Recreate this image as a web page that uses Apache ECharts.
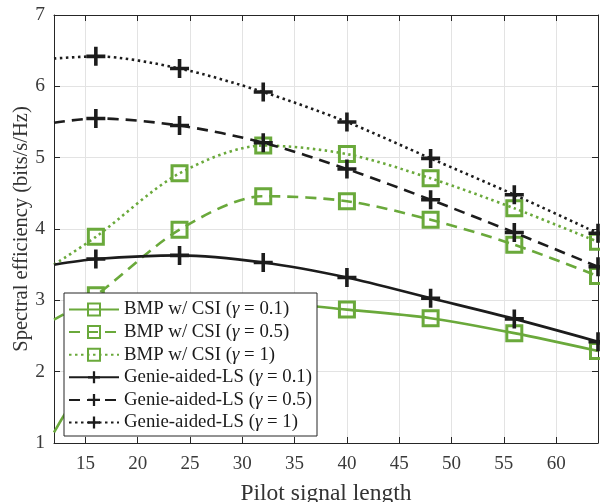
<!DOCTYPE html>
<html>
<head>
<meta charset="utf-8">
<script src="https://cdn.jsdelivr.net/npm/echarts@6/dist/echarts.min.js"></script>
<style>html,body{margin:0;padding:0;background:#fff}#c{width:600px;height:502px}</style>
</head>
<body>
<div id="c"></div>
<script>
const xs = [12, 16, 24, 32, 40, 48, 56, 64];
const bmp01 = [1.15, 2.0, 2.75, 2.97, 2.87, 2.75, 2.54, 2.29];
const bmp05 = [2.73, 3.07, 3.99, 4.46, 4.39, 4.13, 3.78, 3.34];
const bmp1  = [3.5, 3.89, 4.78, 5.17, 5.05, 4.71, 4.29, 3.82];
const ls01  = [3.5, 3.58, 3.63, 3.53, 3.32, 3.03, 2.74, 2.42];
const ls05  = [5.49, 5.55, 5.45, 5.21, 4.84, 4.41, 3.95, 3.47];
const ls1   = [6.39, 6.42, 6.25, 5.92, 5.5, 4.99, 4.48, 3.94];
const names = ['BMP w/ CSI (γ = 0.1)','BMP w/ CSI (γ = 0.5)','BMP w/ CSI (γ = 1)',
               'Genie-aided-LS (γ = 0.1)','Genie-aided-LS (γ = 0.5)','Genie-aided-LS (γ = 1)'];
const xTicks = [15,20,25,30,35,40,45,50,55,60];
const yTicks = [1,2,3,4,5,6,7];

const GREEN = '#6aa93b';
const BLACK = '#1c1c1c';
const FONT = '"Liberation Serif","Times New Roman",serif';
const PLUS = 'path://M-1.7,-9H1.7V-1.7H9V1.7H1.7V9H-1.7V1.7H-9V-1.7H-1.7Z';

function mk(name, vals, color, dash, isBmp) {
  return {
    name: name, type: 'line', smooth: 0.3,
    symbol: isBmp ? 'rect' : PLUS,
    symbolSize: isBmp ? 15 : 19,
    symbolKeepAspect: true,
    lineStyle: {color: color, width: 2.6, type: dash},
    itemStyle: isBmp ? {color: 'rgba(255,255,255,0)', borderColor: color, borderWidth: 3}
                     : {color: color, borderWidth: 0},
    data: xs.map((x, i) => i === 0 ? {value: [x, vals[i]], symbol: 'none'} : [x, vals[i]]),
    z: isBmp ? 2 : 3
  };
}

const chart = echarts.init(document.getElementById('c'), null, {renderer: 'canvas'});
const axisLine = {show: true, lineStyle: {color: '#262626', width: 1}};
const yTick = {show: true, inside: true, length: 6, lineStyle: {color: '#262626'}};
chart.setOption({
  animation: false,
  backgroundColor: '#fff',
  grid: {left: 54, right: 2, top: 15, bottom: 59, containLabel: false, outerBoundsMode: 'none'},
  xAxis: [{
    type: 'value', min: 12, max: 64, interval: 5,
    name: 'Pilot signal length', nameLocation: 'middle', nameGap: 39,
    nameTextStyle: {fontFamily: FONT, fontSize: 23.5, color: '#333'},
    axisLabel: {fontFamily: FONT, fontSize: 19, color: '#3a3a3a', margin: 12,
      customValues: xTicks},
    axisTick: {show: true, inside: true, length: 6, customValues: xTicks, lineStyle: {color: '#262626'}},
    axisLine: axisLine,
    splitLine: {show: true, lineStyle: {color: '#e3e3e3'}},
  }, {
    type: 'value', min: 12, max: 64, position: 'top',
    axisLabel: {show: false},
    axisTick: {show: true, inside: true, length: 6, customValues: xTicks, lineStyle: {color: '#262626'}},
    axisLine: axisLine,
    splitLine: {show: false}
  }],
  yAxis: [{
    type: 'value', min: 1, max: 7, interval: 1,
    name: 'Spectral efficiency (bits/s/Hz)', nameLocation: 'middle', nameGap: 22,
    nameMoveOverlap: false,
    nameTextStyle: {fontFamily: FONT, fontSize: 20.5, color: '#333'},
    axisLabel: {fontFamily: FONT, fontSize: 19.5, color: '#3a3a3a', margin: 9},
    axisLine: axisLine, axisTick: yTick,
    splitLine: {show: true, lineStyle: {color: '#e3e3e3'}},
  }, {
    type: 'value', min: 1, max: 7, interval: 1, position: 'right',
    axisLabel: {show: false},
    axisLine: axisLine, axisTick: yTick,
    splitLine: {show: false}
  }],
  legend: {
    orient: 'vertical', left: 64, top: 293,
    data: names,
    itemWidth: 50, itemHeight: 15, itemGap: 3.6,
    padding: [7, 5, 4, 4],
    backgroundColor: '#fff', borderColor: '#262626', borderWidth: 1,
    textStyle: {fontFamily: FONT, fontSize: 18.8, color: '#1a1a1a', lineHeight: 19,
      rich: {i: {fontFamily: FONT, fontSize: 18.8, fontStyle: 'italic', color: '#1a1a1a', lineHeight: 19}}},
    formatter: n => n.replace('γ', '{i|γ}'),
    selectedMode: false
  },
  series: [
    mk(names[0], bmp01, GREEN, 'solid', true),
    mk(names[1], bmp05, GREEN, [11, 7], true),
    mk(names[2], bmp1, GREEN, [2.5, 3.5], true),
    mk(names[3], ls01, BLACK, 'solid', false),
    mk(names[4], ls05, BLACK, [11, 7], false),
    mk(names[5], ls1, BLACK, [2.5, 3.5], false),
  ]
});
</script>
</body>
</html>
